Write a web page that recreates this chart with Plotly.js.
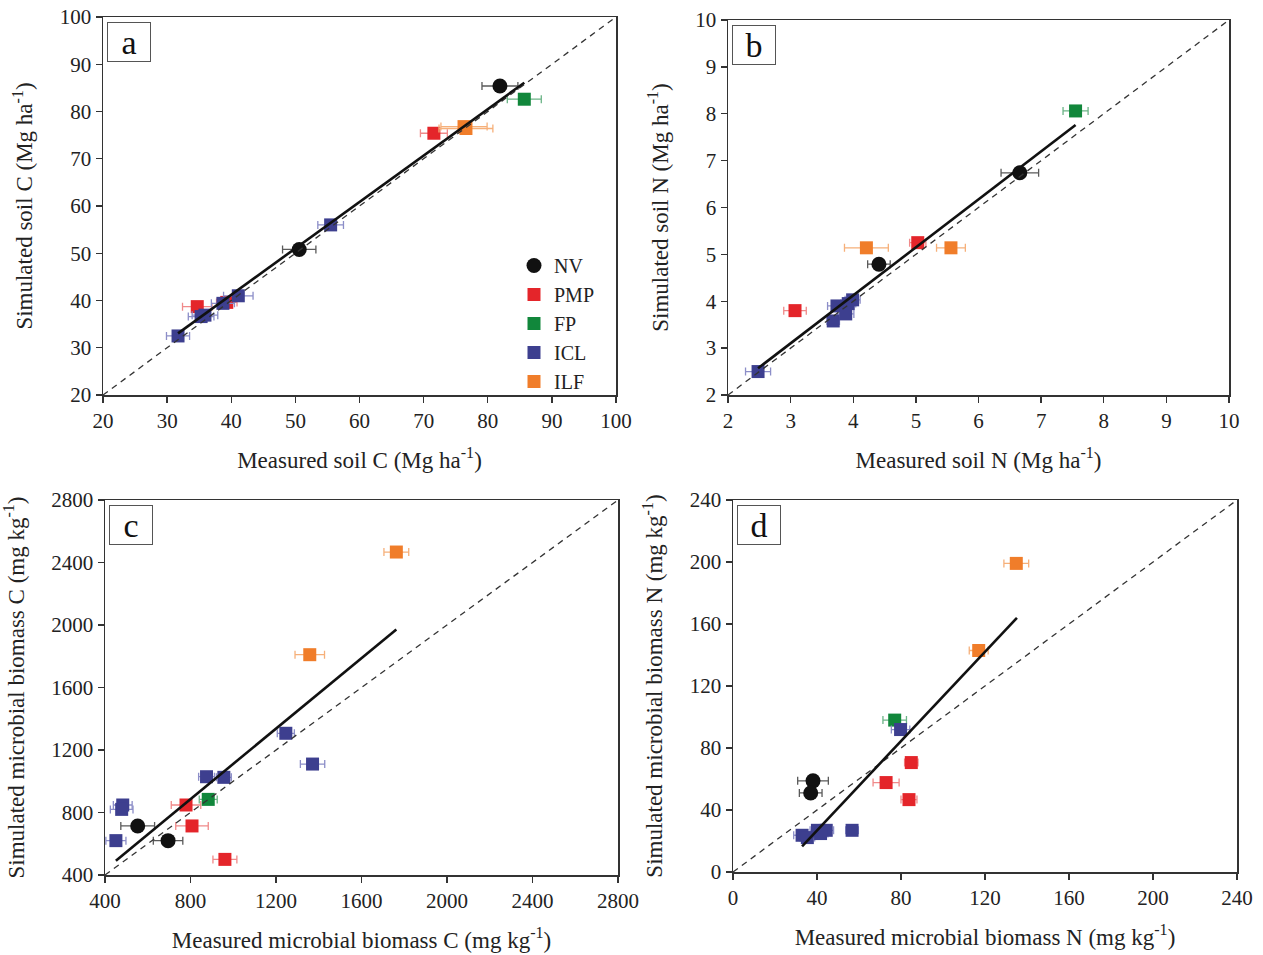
<!DOCTYPE html>
<html><head><meta charset="utf-8">
<script src="https://cdn.plot.ly/plotly-3.0.1.min.js"></script>
<style>html,body{margin:0;padding:0;background:#fff}</style>
</head><body><div id="chart" style="width:1263px;height:955px"></div>
<script>
// ---------- groups ----------
const groupNames   = ['NV', 'PMP', 'FP', 'ICL', 'ILF'];
const groupColors  = ['#111111', '#e4252a', '#11873b', '#3d3f8f', '#f07d2a'];
const errColors    = ['#5a5a5a', '#f08a8a', '#6cb487', '#8c8ec8', '#f6b07a'];
const groupSymbols = ['circle', 'square', 'square', 'square', 'square'];

// ---------- panel a: soil C (Mg ha-1) ----------
const soilC_group = ['NV','NV','PMP','PMP','PMP','FP','ICL','ICL','ICL','ICL','ICL','ICL','ILF','ILF'];
const soilC_meas  = [81.9, 50.6, 71.6, 34.7, 39.3, 85.7, 55.5, 41.1, 38.7, 35.9, 35.3, 31.7, 76.3, 76.6];
const soilC_sim   = [85.4, 50.8, 75.4, 38.7, 39.6, 82.6, 56.0, 41.0, 39.4, 36.9, 36.6, 32.5, 76.8, 76.4];
const soilC_err   = [2.8, 2.6, 2.1, 2.3, 1.6, 2.65, 2.0, 2.3, 1.8, 2.0, 2.0, 1.8, 3.6, 4.2];
const soilC_fitX  = [31.7, 85.7];
const soilC_fitY  = [33.05, 86.1];

// ---------- panel b: soil N (Mg ha-1) ----------
const soilN_group = ['NV','NV','PMP','PMP','FP','ICL','ICL','ICL','ICL','ICL','ICL','ILF','ILF'];
const soilN_meas  = [6.66, 4.41, 5.03, 3.07, 7.55, 3.99, 3.92, 3.74, 3.88, 3.68, 2.48, 4.21, 5.56];
const soilN_sim   = [6.74, 4.79, 5.25, 3.80, 8.06, 4.03, 3.95, 3.90, 3.73, 3.58, 2.50, 5.14, 5.14];
const soilN_err   = [0.30, 0.18, 0.13, 0.18, 0.20, 0.12, 0.12, 0.15, 0.13, 0.10, 0.20, 0.35, 0.23];
const soilN_fitX  = [2.48, 7.55];
const soilN_fitY  = [2.57, 7.76];

// ---------- panel c: microbial biomass C (mg kg-1) ----------
const mbC_group = ['NV','NV','PMP','PMP','PMP','FP','ICL','ICL','ICL','ICL','ICL','ICL','ICL','ILF','ILF'];
const mbC_meas  = [553, 695, 779, 807, 961, 883, 1246, 1371, 875, 956, 483, 478, 451, 1763, 1358];
const mbC_sim   = [714, 620, 848, 714, 500, 884, 1307, 1110, 1029, 1025, 848, 820, 620, 2467, 1810];
const mbC_err   = [79, 69, 69, 76, 56, 42, 40, 57, 37, 35, 44, 53, 47, 58, 69];
const mbC_fitX  = [451, 1763];
const mbC_fitY  = [492, 1972];

// ---------- panel d: microbial biomass N (mg kg-1) ----------
const mbN_group = ['NV','NV','PMP','PMP','PMP','FP','ICL','ICL','ICL','ICL','ICL','ICL','ICL','ILF','ILF'];
const mbN_meas  = [38.1, 37.0, 84.9, 72.9, 83.8, 77.0, 79.8, 56.7, 44.4, 40.2, 41.7, 32.9, 35.4, 134.9, 117.0];
const mbN_sim   = [58.8, 51.0, 70.6, 57.7, 46.7, 98.0, 91.9, 26.9, 26.9, 26.9, 24.8, 23.7, 22.2, 199.1, 142.9];
const mbN_err   = [7.3, 5.4, 3.2, 6.2, 3.8, 5.6, 4.4, 3.0, 3.5, 3.5, 3.5, 4.0, 3.5, 5.9, 4.5];
const mbN_fitX  = [32.9, 135.2];
const mbN_fitY  = [16.6, 164.0];

// ---------- axis settings ----------
const panelLabels = ['a', 'b', 'c', 'd'];
const rangesA = [20, 100], dtickA = 10;
const rangesB = [2, 10],   dtickB = 1;
const rangesC = [400, 2800], dtickC = 400;
const rangesD = [0, 240],  dtickD = 40;

const W = 1263, H = 955;
const px = v => v / W;
const py = v => 1 - v / H;

const panels = [
  {g: soilC_group, x: soilC_meas, y: soilC_sim, e: soilC_err, fx: soilC_fitX, fy: soilC_fitY,
   range: rangesA, dtick: dtickA, box: [103, 616, 17, 395],
   xt: 'Measured soil C (Mg ha<sup>-1</sup>)', yt: 'Simulated soil C (Mg ha<sup>-1</sup>)'},
  {g: soilN_group, x: soilN_meas, y: soilN_sim, e: soilN_err, fx: soilN_fitX, fy: soilN_fitY,
   range: rangesB, dtick: dtickB, box: [728, 1229, 20, 395],
   xt: 'Measured soil N (Mg ha<sup>-1</sup>)', yt: 'Simulated soil N (Mg ha<sup>-1</sup>)'},
  {g: mbC_group, x: mbC_meas, y: mbC_sim, e: mbC_err, fx: mbC_fitX, fy: mbC_fitY,
   range: rangesC, dtick: dtickC, box: [105, 618, 500, 875],
   xt: 'Measured microbial biomass C (mg kg<sup>-1</sup>)', yt: 'Simulated microbial biomass C (mg kg<sup>-1</sup>)'},
  {g: mbN_group, x: mbN_meas, y: mbN_sim, e: mbN_err, fx: mbN_fitX, fy: mbN_fitY,
   range: rangesD, dtick: dtickD, box: [733, 1237, 500, 872],
   xt: 'Measured microbial biomass N (mg kg<sup>-1</sup>)', yt: 'Simulated microbial biomass N (mg kg<sup>-1</sup>)'}
];

const FONT = "'Liberation Serif', 'Times New Roman', serif";
const traces = [];
const layout = {
  width: W, height: H,
  margin: {l: 0, r: 0, t: 0, b: 0},
  paper_bgcolor: '#fff', plot_bgcolor: '#fff',
  font: {family: FONT, color: '#222', size: 20},
  showlegend: true,
  legend: {
    x: px(514), y: py(246), xanchor: 'left', yanchor: 'top',
    bgcolor: 'rgba(0,0,0,0)', borderwidth: 0,
    font: {family: FONT, size: 20, color: '#222'},
    itemsizing: 'trace', tracegroupgap: 0
  },
  annotations: []
};

panels.forEach((p, i) => {
  const n = i === 0 ? '' : String(i + 1);
  const xa = 'x' + n, ya = 'y' + n;
  const [l, r, t, b] = p.box;
  const axBase = {
    range: p.range, dtick: p.dtick, tick0: p.range[0],
    showgrid: false, zeroline: false,
    showline: true, mirror: true, linecolor: '#333', linewidth: 1.5,
    ticks: 'outside', ticklen: 6, tickwidth: 1.3, tickcolor: '#333',
    tickfont: {family: FONT, size: 21, color: '#222'},
    automargin: false, fixedrange: true
  };
  layout['xaxis' + n] = Object.assign({}, axBase, {
    domain: [px(l), px(r)], anchor: ya,
    title: {text: p.xt, font: {family: FONT, size: 23, color: '#222'}, standoff: 20}
  });
  layout['yaxis' + n] = Object.assign({}, axBase, {
    domain: [py(b), py(t)], anchor: xa,
    title: {text: p.yt, font: {family: FONT, size: 23, color: '#222'}, standoff: 20}
  });

  // data markers by group
  groupNames.forEach((gn, k) => {
    const idx = p.g.map((v, j) => v === gn ? j : -1).filter(j => j >= 0);
    if (!idx.length) return;
    traces.push({
      type: 'scatter', mode: 'markers', xaxis: xa, yaxis: ya,
      name: gn, legendgroup: gn, showlegend: i === 0,
      x: idx.map(j => p.x[j]), y: idx.map(j => p.y[j]),
      error_x: {type: 'data', array: idx.map(j => p.e[j]), visible: true,
                color: errColors[k], thickness: 1.3, width: 4},
      marker: {symbol: groupSymbols[k], color: groupColors[k],
               size: groupSymbols[k] === 'circle' ? 15 : 13,
               line: {width: 0}},
      hoverinfo: 'x+y+name'
    });
  });

  // 1:1 line
  traces.push({
    type: 'scatter', mode: 'lines', xaxis: xa, yaxis: ya, showlegend: false,
    x: p.range, y: p.range, line: {color: '#333', width: 1.3, dash: '6px,5px'},
    hoverinfo: 'skip'
  });
  // regression line
  traces.push({
    type: 'scatter', mode: 'lines', xaxis: xa, yaxis: ya, showlegend: false,
    x: p.fx, y: p.fy, line: {color: '#111', width: 2.6},
    hoverinfo: 'skip'
  });

  // panel label box
  layout.annotations.push({
    xref: 'paper', yref: 'paper', x: px(l + 4), y: py(t + 5),
    xanchor: 'left', yanchor: 'top', showarrow: false,
    text: panelLabels[i], width: 42, height: 38, borderpad: 0,
    bordercolor: '#555', borderwidth: 1, bgcolor: '#fff',
    font: {family: FONT, size: 34, color: '#111'}
  });
});

Plotly.newPlot('chart', traces, layout, {staticPlot: true, displayModeBar: false});
</script>
</body></html>
